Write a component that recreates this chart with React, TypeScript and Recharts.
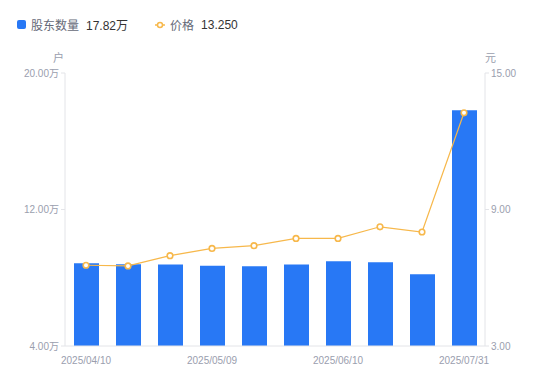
import { ComposedChart, Bar, Line, XAxis, YAxis } from 'recharts';

const dates = [
  '2025/04/10', '2025/04/20', '2025/04/30', '2025/05/09', '2025/05/20',
  '2025/05/31', '2025/06/10', '2025/06/20', '2025/06/30', '2025/07/31',
];
const holders = [8.85, 8.79, 8.77, 8.71, 8.67, 8.77, 8.96, 8.91, 8.2, 17.82];
const prices = [6.55, 6.52, 6.97, 7.29, 7.41, 7.73, 7.73, 8.24, 8.01, 13.25];
const leftTicks = [4, 12, 20];
const rightTicks = [3, 9, 15];

const BAR_COLOR = '#2878f5';
const LINE_COLOR = '#f7b84b';
const AXIS_COLOR = '#e3e4e8';
const TICK_COLOR = '#9a9eae';
const FONT = '"Liberation Sans", Arial, "Noto Sans CJK SC", sans-serif';

const data = dates.map((d, i) => ({ date: d, holders: holders[i], price: prices[i] }));

export default function App() {
  const tick = { fill: TICK_COLOR, fontSize: 10, fontFamily: FONT };
  return (
    <div style={{ position: 'absolute', left: 0, top: 0, width: 550, height: 381, fontFamily: FONT }}>
      <div style={{ position: 'absolute', left: 17, top: 16, display: 'flex', alignItems: 'center', fontSize: 12, whiteSpace: 'nowrap' }}>
        <span style={{ display: 'inline-block', width: 9, height: 9, borderRadius: 2, background: BAR_COLOR, marginRight: 5 }} />
        <span style={{ color: '#666a78', marginRight: 7 }}>股东数量</span>
        <span style={{ color: '#333' }}>17.82万</span>
        <svg width={10} height={8} style={{ marginLeft: 27, marginRight: 5 }}>
          <line x1={0} y1={4} x2={10} y2={4} stroke={LINE_COLOR} strokeWidth={1.5} />
          <circle cx={5} cy={4} r={2.5} fill="#fff" stroke={LINE_COLOR} strokeWidth={1.5} />
        </svg>
        <span style={{ color: '#666a78', marginRight: 7 }}>价格</span>
        <span style={{ color: '#333' }}>13.250</span>
      </div>
      <div style={{ position: 'absolute', left: 53, top: 49, fontSize: 11, color: TICK_COLOR }}>户</div>
      <div style={{ position: 'absolute', left: 485, top: 49, fontSize: 11, color: TICK_COLOR }}>元</div>
      <ComposedChart width={550} height={381} data={data} margin={{ top: 73, right: 5, bottom: 0, left: 5 }}>
        <XAxis
          dataKey="date"
          height={35}
          interval={2}
          tickLine={false}
          tickMargin={5}
          axisLine={{ stroke: AXIS_COLOR }}
          tick={tick}
        />
        <YAxis
          yAxisId="left"
          width={60}
          domain={[4, 20]}
          ticks={leftTicks}
          tickSize={4}
          tickLine={{ stroke: AXIS_COLOR }}
          axisLine={{ stroke: AXIS_COLOR }}
          tick={tick}
          tickFormatter={(v: number) => `${v.toFixed(2)}万`}
        />
        <YAxis
          yAxisId="right"
          orientation="right"
          width={60}
          domain={[3, 15]}
          ticks={rightTicks}
          tickSize={4}
          tickLine={{ stroke: AXIS_COLOR }}
          axisLine={{ stroke: AXIS_COLOR }}
          tick={tick}
          tickFormatter={(v: number) => v.toFixed(2)}
        />
        <Bar yAxisId="left" dataKey="holders" fill={BAR_COLOR} barSize={25} isAnimationActive={false} />
        <Line
          yAxisId="right"
          dataKey="price"
          type="linear"
          stroke={LINE_COLOR}
          strokeWidth={1.2}
          dot={{ r: 2.8, fill: '#fff', stroke: LINE_COLOR, strokeWidth: 1.6 }}
          isAnimationActive={false}
        />
      </ComposedChart>
    </div>
  );
}
